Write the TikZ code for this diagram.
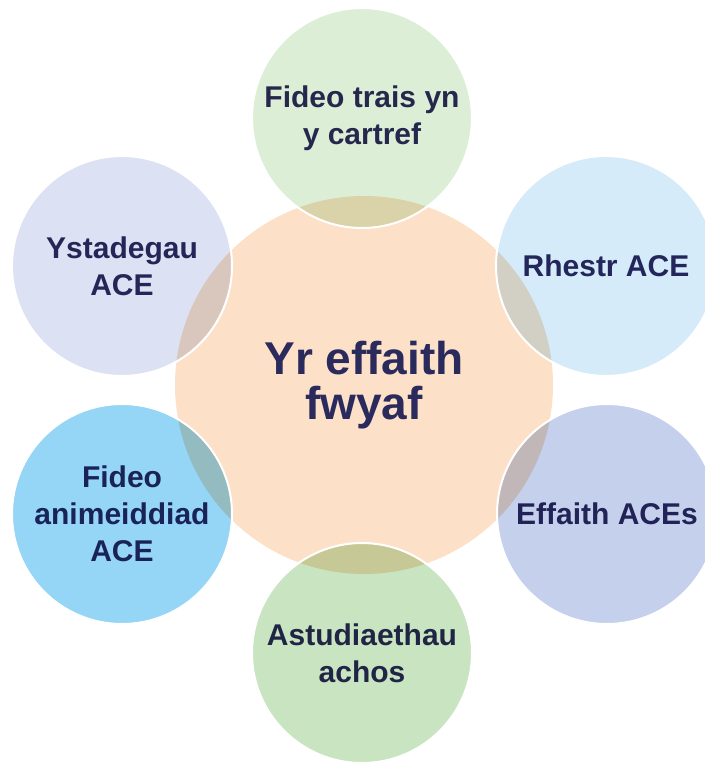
\documentclass[tikz,border=0pt]{standalone}
\usepackage{fontspec}
\setmainfont{Liberation Sans}
\definecolor{txt}{HTML}{2B2A5C}
\definecolor{peach}{HTML}{FCE1C8}
\definecolor{gTop}{HTML}{DDEED7}
\definecolor{bRight}{HTML}{D5EBFA}
\definecolor{lRight}{HTML}{C4D0EC}
\definecolor{gBot}{HTML}{C9E4C0}
\definecolor{bLeft}{HTML}{95D5F5}
\definecolor{lLeft}{HTML}{DCE2F3}
\begin{document}
\begin{tikzpicture}[x=1pt,y=-1pt,
    bubble/.style={circle,minimum size=220pt,inner sep=0pt,text=txt,align=center,
      font=\fontsize{30}{37}\selectfont\bfseries},
    hub/.style={circle,minimum size=378pt,inner sep=0pt,fill=peach,text=txt,align=center,
      font=\fontsize{46}{45}\selectfont\bfseries}]
  \useasboundingbox (0,0) rectangle (704,762);
  \node[hub] (hub) at (364,385) {Yr effaith\\fwyaf};
  \begin{scope}[blend mode=multiply]
    \node[bubble,fill=gTop] (video) at (362,118) {Fideo trais yn\\y cartref};
    \node[bubble,fill=bRight] (list) at (606,266) {Rhestr ACE};
    \node[bubble,fill=lRight] (impact) at (607,514) {Effaith ACEs};
    \node[bubble,fill=gBot] (cases) at (362,653) {Astudiaethau\\achos};
    \node[bubble,fill=bLeft] (anim) at (122,514) {Fideo\\animeiddiad\\ACE};
    \node[bubble,fill=lLeft] (stats) at (122,266) {Ystadegau\\ACE};
  \end{scope}
  % white rims
  \foreach \n in {video,list,impact,cases,anim,stats}
    \draw[white,line width=2pt] (\n.center) circle[radius=110];
\end{tikzpicture}
\end{document}
